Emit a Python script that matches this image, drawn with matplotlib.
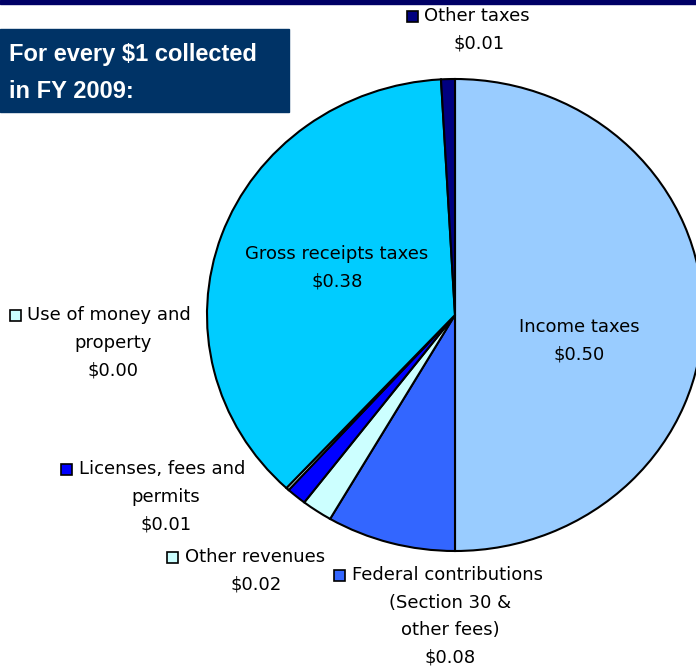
import matplotlib.pyplot as plt
from matplotlib.patches import Rectangle

# data
categories = ["Income taxes", "Federal contributions (Section 30 & other fees)",
              "Other revenues", "Licenses, fees and permits",
              "Use of money and property", "Gross receipts taxes", "Other taxes"]
shares = [0.50, 0.084, 0.020, 0.013, 0.002, 0.372, 0.009]
value_labels = ["$0.50", "$0.08", "$0.02", "$0.01", "$0.00", "$0.38", "$0.01"]
colors = ["#99ccff", "#3366ff", "#ccffff", "#0000ff", "#ccffff", "#00ccff", "#000080"]

W, H = 696, 668
fig = plt.figure(figsize=(W / 100, H / 100), dpi=100)

def fx(x):
    return x / W

def fy(y):
    return 1 - y / H

## pie is a bit wider than tall in the original, so stretch the axes
cx, cy, rx, ry = 455, 315, 248, 236
ax = fig.add_axes([fx(cx - rx), fy(cy + ry), 2 * rx / W, 2 * ry / H])
ax.pie(shares, colors=colors, startangle=90, counterclock=False,
       wedgeprops={"edgecolor": "black", "linewidth": 1.5})
ax.set_aspect("auto")
ax.set_xlim(-1, 1)
ax.set_ylim(-1, 1)
ax.axis("off")

# top rule and title box
fig.patches.append(Rectangle((0, fy(4)), 1, 4 / H, transform=fig.transFigure,
                             color="#000066", zorder=5))
fig.patches.append(Rectangle((0, fy(112)), fx(289), 83 / H, transform=fig.transFigure,
                             color="#003366", zorder=5))
fig.text(fx(9), fy(54), "For every $1 collected", color="white", fontsize=17,
         fontweight="bold", family="Liberation Sans", va="center", zorder=6)
fig.text(fx(9), fy(91), "in FY 2009:", color="white", fontsize=17,
         fontweight="bold", family="Liberation Sans", va="center", zorder=6)

fs = 13

def label(lines, xc, y0, sq_x=None, col=None, first_x=None):
    # first line starts after a small legend square, rest are centred
    for i, t in enumerate(lines):
        y = y0 + i * 27.5
        if i == 0 and first_x is not None:
            fig.text(fx(first_x), fy(y), t, fontsize=fs, va="center", ha="left")
        else:
            fig.text(fx(xc), fy(y), t, fontsize=fs, va="center", ha="center")
    if sq_x is not None:
        fig.patches.append(Rectangle((fx(sq_x), fy(y0 + 6)), 11 / W, 11 / H,
                                     transform=fig.transFigure, facecolor=col,
                                     edgecolor="black", linewidth=1.2))

label(["Other taxes", value_labels[6]], 479, 16, sq_x=407, col=colors[6], first_x=424)
label(["Gross receipts taxes", value_labels[5]], 337, 254)
label(["Income taxes", value_labels[0]], 579, 327)
label(["Use of money and", "property", value_labels[4]], 113, 315, sq_x=10, col=colors[4], first_x=27)
label(["Licenses, fees and", "permits", value_labels[3]], 166, 469, sq_x=61, col=colors[3], first_x=79)
label(["Other revenues", value_labels[2]], 256, 557, sq_x=167, col=colors[2], first_x=185)
label(["Federal contributions", "(Section 30 &", "other fees)", value_labels[1]], 450, 575,
      sq_x=334, col=colors[1], first_x=352)

fig.savefig("out.png", dpi=100)
